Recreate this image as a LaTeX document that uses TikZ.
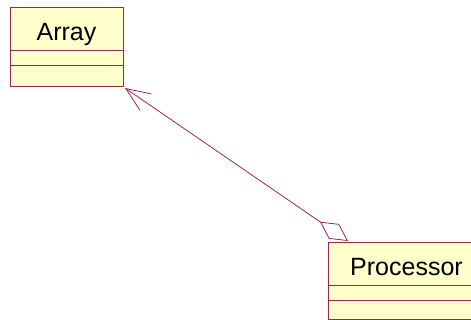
\documentclass[tikz,border=0pt]{standalone}
\usepackage{fontspec}
\setmainfont{Liberation Sans}
\usetikzlibrary{positioning,arrows.meta}
\definecolor{umlline}{RGB}{153,40,80}
\definecolor{umlfill}{RGB}{255,255,204}

\begin{document}
\begin{tikzpicture}[x=1pt, y=-1pt,
        classname/.style={draw=umlline, fill=umlfill, line width=0.8pt, inner sep=0pt, outer sep=0pt,
            minimum height=43pt, text height=34pt, text depth=9pt, font=\fontsize{25}{30}\selectfont},
        compart/.style={draw=umlline, fill=umlfill, line width=0.8pt, inner sep=0pt, outer sep=0pt}]
        \useasboundingbox (0,0) rectangle (471,320);
        \clip (0,0) rectangle (471,320);
        % classes
        \node[classname, minimum width=113pt, anchor=north west] (arrayname) at (10,7) {Array};
        \node[compart, minimum width=113pt, minimum height=15.5pt, below=0pt of arrayname] (arrayattr) {};
        \node[compart, minimum width=113pt, minimum height=20.5pt, below=0pt of arrayattr] (arrayops) {};
        \node[classname, minimum width=157pt, anchor=north west] (procname) at (328,242) {Processor};
        \node[compart, minimum width=157pt, minimum height=15pt, below=0pt of procname] (procattr) {};
        \node[compart, minimum width=157pt, minimum height=19pt, below=0pt of procattr] (procops) {};
        % aggregation
        \coordinate (aggend) at (348,241);
        \coordinate (navend) at (125,88);
        \draw[umlline, line width=0.8pt,
            {Diamond[open, fill=white, length=34pt, width=18pt]}-{Straight Barb[length=24pt, width=20pt]}]
            (aggend) -- (navend);
    \end{tikzpicture}
\end{document}
